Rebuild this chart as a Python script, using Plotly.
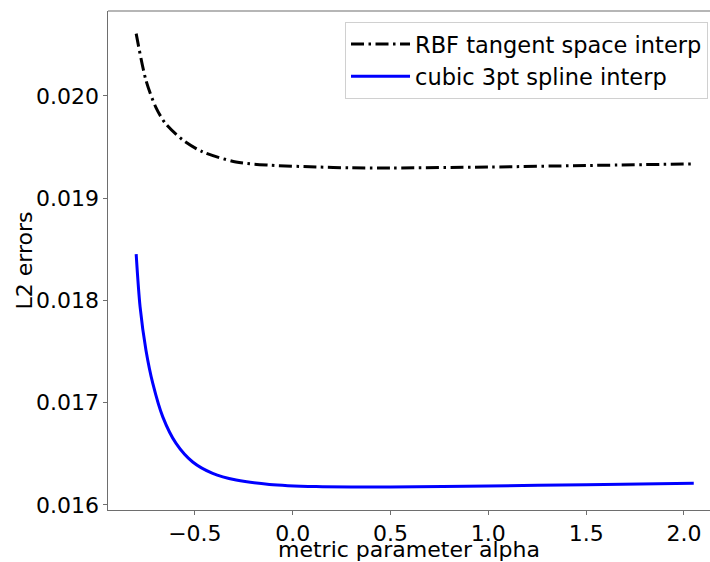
import plotly.graph_objects as go

# Data
alpha_rbf = [-0.80, -0.75, -0.70, -0.65, -0.56, -0.46, -0.29, -0.12, 0.12, 0.30, 0.50, 1.00, 1.50, 2.05]
err_rbf = [0.020610, 0.020153, 0.019892, 0.019730, 0.019567, 0.019453, 0.019355, 0.019323,
           0.019306, 0.019297, 0.019296, 0.019305, 0.019320, 0.019336]

alpha_spl = [-0.80, -0.78, -0.75, -0.715, -0.664, -0.596, -0.511, -0.409, -0.289, -0.119, 0.12,
             0.30, 0.50, 1.00, 1.50, 2.05]
err_spl = [0.018453, 0.017937, 0.017514, 0.017189, 0.016862, 0.016602, 0.016420, 0.016309,
           0.016244, 0.016201, 0.016180, 0.016176, 0.016177, 0.016186, 0.016198, 0.016212]

x_ticks = [-0.5, 0.0, 0.5, 1.0, 1.5, 2.0]
y_ticks = [0.016, 0.017, 0.018, 0.019, 0.020]

FONT = "DejaVu Sans"
FS = 22

fig = go.Figure()
fig.add_trace(go.Scatter(
    x=alpha_rbf, y=err_rbf, mode="lines", name="RBF tangent space interp",
    line=dict(color="black", width=3, dash="13px,4.5px,2.5px,4.5px", shape="spline", smoothing=0.8)))
fig.add_trace(go.Scatter(
    x=alpha_spl, y=err_spl, mode="lines", name="cubic 3pt spline interp",
    line=dict(color="blue", width=3, shape="spline", smoothing=0.8)))

axis_common = dict(showgrid=False, zeroline=False, showline=True, linecolor="#6e6e6e", linewidth=1.2,
                   ticks="outside", ticklen=3.5, tickwidth=1.2, tickcolor="#6e6e6e",
                   tickfont=dict(family=FONT, size=FS, color="black"))

fig.update_layout(
    width=710, height=562,
    margin=dict(l=108, r=0, t=11, b=52),
    paper_bgcolor="white", plot_bgcolor="white",
    font=dict(family=FONT, size=FS, color="black"),
    showlegend=True,
    legend=dict(x=0.9967, y=0.978, xanchor="right", yanchor="top",
                bgcolor="rgba(255,255,255,0.8)", bordercolor="#d0d0d0", borderwidth=1,
                font=dict(family=FONT, size=22.5, color="black"),
                tracegroupgap=0, itemwidth=59),
    xaxis=dict(range=[-0.944, 2.133], tickvals=x_ticks, tickformat=".1f", **axis_common),
    yaxis=dict(range=[0.015951, 0.020831], tickvals=y_ticks, tickformat=".3f", **axis_common),
    annotations=[
        dict(text="L2 errors", xref="paper", yref="paper", x=-0.1395, y=0.5,
             textangle=-90, showarrow=False, xanchor="center", yanchor="middle",
             font=dict(family=FONT, size=FS, color="black")),
        dict(text="metric parameter alpha", xref="paper", yref="paper", x=0.5, y=-0.0501,
             showarrow=False, xanchor="center", yanchor="top",
             font=dict(family=FONT, size=FS, color="black")),
    ],
    shapes=[dict(type="line", xref="paper", yref="paper", x0=0, x1=1, y0=1, y1=1,
                 line=dict(color="#6e6e6e", width=1.2))],
)

fig.write_html("out.html", config={"displayModeBar": False},
               post_script="document.body.style.margin='0';document.body.style.overflow='hidden';")
